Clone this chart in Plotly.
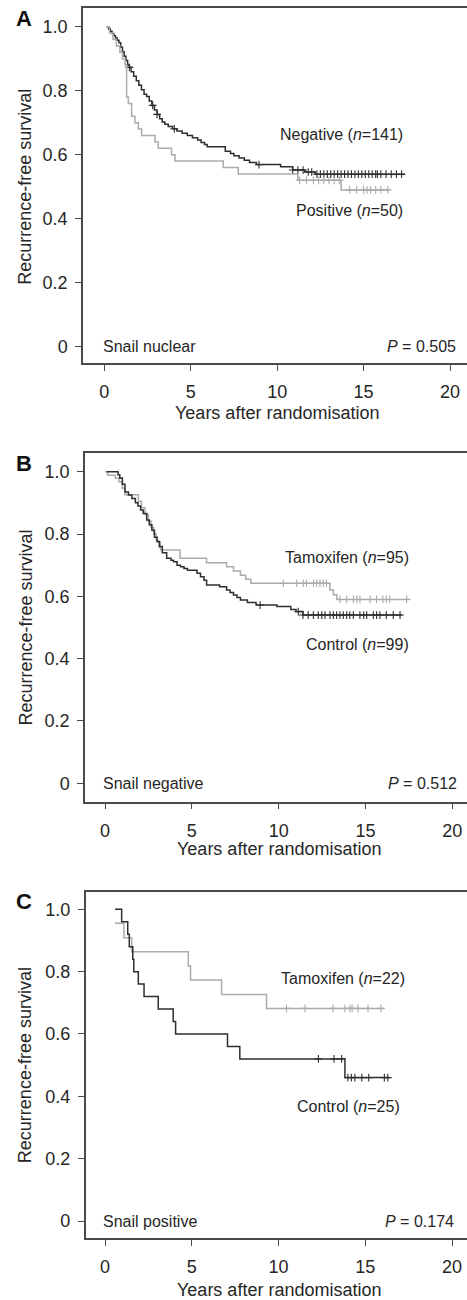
import plotly.graph_objects as go

W, H = 467, 1300
FONT = "Liberation Sans, Arial, Helvetica, sans-serif"
DARK = "#2e2e2e"
LIGHT = "#ababab"
TXT = "#262626"

# ---------------- Panel A: Snail nuclear ----------------
A_neg_start = [0.13, 1.0]
A_neg_t = [0.25, 0.35, 0.45, 0.55, 0.65, 0.75, 0.85, 0.95, 1.05, 1.15, 1.25, 1.35, 1.45, 1.55, 1.7,
           1.85, 2.0, 2.15, 2.3, 2.45, 2.6, 2.75, 2.9, 3.05, 3.2, 3.35, 3.5, 3.7, 3.95, 4.2, 4.5,
           4.8, 5.1, 5.4, 5.6, 5.8, 5.95, 7.0, 7.3, 7.5, 7.8, 8.1, 8.4, 8.8, 10.2, 10.9, 11.6, 12.2]
A_neg_s = [0.993, 0.986, 0.979, 0.972, 0.965, 0.958, 0.950, 0.936, 0.922, 0.908, 0.894, 0.880, 0.873,
           0.859, 0.845, 0.831, 0.817, 0.803, 0.789, 0.782, 0.768, 0.754, 0.740, 0.726, 0.712, 0.702,
           0.695, 0.688, 0.681, 0.674, 0.667, 0.660, 0.653, 0.646, 0.638, 0.632, 0.625, 0.611, 0.604,
           0.597, 0.590, 0.583, 0.576, 0.569, 0.562, 0.552, 0.546, 0.539]
A_neg_end = 17.4
A_neg_cens = [1.45, 2.8, 3.05, 4.05, 8.95, 10.9, 11.2, 11.5, 11.8, 12.0, 12.3, 12.5, 12.7, 12.9, 13.1,
              13.3, 13.5, 13.7, 13.9, 14.1, 14.3, 14.5, 14.7, 14.9, 15.1, 15.3, 15.5, 15.7, 15.8, 16.0,
              16.3, 16.6, 16.9, 17.2]

A_pos_start = [0.13, 1.0]
A_pos_t = [0.3, 0.5, 0.7, 0.9, 1.05, 1.2, 1.29, 1.39, 1.58, 1.77, 1.97, 2.16, 2.93, 3.12, 3.89, 4.09,
           6.88, 7.75, 11.2, 13.7]
A_pos_s = [0.98, 0.96, 0.94, 0.92, 0.90, 0.88, 0.78, 0.76, 0.72, 0.70, 0.68, 0.66, 0.64, 0.62, 0.60,
           0.58, 0.56, 0.54, 0.52, 0.49]
A_pos_end = 16.5
A_pos_cens = [11.3, 11.7, 12.1, 12.4, 12.7, 13.0, 13.3, 13.6, 14.2, 14.6, 15.0, 15.2, 15.4, 15.7, 16.0, 16.4]

# ---------------- Panel B: Snail negative ----------------
B_ctl_start = [0.1, 1.0]
B_ctl_t = [0.75, 0.85, 1.0, 1.15, 1.35, 1.55, 1.75, 1.9, 2.05, 2.2, 2.4, 2.55, 2.7, 2.85, 3.0, 3.15,
           3.3, 3.55, 3.8, 3.95, 4.15, 4.35, 4.55, 4.75, 5.3, 5.5, 5.7, 5.85, 6.6, 7.0, 7.2, 7.4, 7.6,
           7.8, 8.2, 8.7, 9.9, 10.7, 11.0, 11.4]
B_ctl_s = [0.99, 0.98, 0.96, 0.935, 0.925, 0.914, 0.90, 0.89, 0.877, 0.866, 0.845, 0.83, 0.812, 0.79,
           0.775, 0.76, 0.74, 0.722, 0.716, 0.711, 0.70, 0.695, 0.689, 0.684, 0.674, 0.663, 0.652,
           0.636, 0.631, 0.620, 0.612, 0.604, 0.596, 0.588, 0.580, 0.572, 0.567, 0.558, 0.551, 0.540]
B_ctl_end = 17.1
B_ctl_cens = [8.93, 11.13, 11.4, 11.7, 12.0, 12.28, 12.48, 12.67, 12.96, 13.15, 13.34, 13.53, 13.72,
              13.92, 14.1, 14.3, 14.68, 14.9, 15.07, 15.45, 15.64, 15.83, 16.2, 16.6, 16.99]

B_tam_start = [0.0, 1.0]
B_tam_t = [0.15, 0.6, 0.8, 1.0, 1.15, 1.92, 2.1, 2.3, 2.5, 2.65, 2.8, 2.95, 3.1, 3.2, 4.32, 5.85, 7.0,
           7.4, 7.8, 8.1, 8.4, 12.95, 13.15, 13.35]
B_tam_s = [0.989, 0.979, 0.968, 0.947, 0.926, 0.905, 0.884, 0.863, 0.842, 0.821, 0.800, 0.779, 0.758,
           0.749, 0.722, 0.708, 0.695, 0.681, 0.668, 0.655, 0.642, 0.620, 0.605, 0.590]
B_tam_end = 17.56
B_tam_cens = [10.27, 11.04, 11.42, 11.6, 12.0, 12.19, 12.38, 12.57, 12.76, 13.53, 13.92, 14.3, 14.5,
              14.68, 15.26, 15.64, 16.0, 16.2, 16.4, 17.37]

# ---------------- Panel C: Snail positive ----------------
C_ctl_start = [0.58, 1.0]
C_ctl_t = [0.96, 1.31, 1.40, 1.6, 1.66, 1.92, 2.25, 3.07, 3.93, 4.07, 7.06, 7.77, 13.83]
C_ctl_s = [0.96, 0.92, 0.88, 0.84, 0.80, 0.76, 0.72, 0.68, 0.64, 0.60, 0.56, 0.52, 0.46]
C_ctl_end = 16.4
C_ctl_cens = [12.3, 13.2, 13.64, 14.0, 14.2, 14.4, 14.8, 15.2, 16.1, 16.3]

C_tam_start = [0.58, 0.955]
C_tam_t = [1.09, 1.54, 4.8, 4.93, 6.72, 9.31]
C_tam_s = [0.909, 0.864, 0.818, 0.773, 0.727, 0.682]
C_tam_end = 16.1
C_tam_cens = [10.46, 11.53, 13.14, 13.83, 14.12, 14.24, 14.58, 15.16, 15.9]

x_ticks = [0, 5, 10, 15, 20]
y_ticks = [0, 0.2, 0.4, 0.6, 0.8, 1.0]
y_ticklabels = ["0", "0.2", "0.4", "0.6", "0.8", "1.0"]
x_title = "Years after randomisation"
y_title = "Recurrence-free survival"

panels = [
    dict(letter="A", name="Snail nuclear", p="0.505",
         curves=[(A_neg_start, A_neg_t, A_neg_s, A_neg_end, A_neg_cens, DARK, "Negative"),
                 (A_pos_start, A_pos_t, A_pos_s, A_pos_end, A_pos_cens, LIGHT, "Positive")],
         labels=[("Negative (<i>n</i>=141)", 405, 0.662), ("Positive (<i>n</i>=50)", 405, 0.425)],
         left=83, top=8, bottom=363, x0=104.3, x20=450.0, y0=346.7, y1=26.7,
         xtitle_py=413, letter_py=19, p_px=458),
    dict(letter="B", name="Snail negative", p="0.512",
         curves=[(B_tam_start, B_tam_t, B_tam_s, B_tam_end, B_tam_cens, LIGHT, "Tamoxifen"),
                 (B_ctl_start, B_ctl_t, B_ctl_s, B_ctl_end, B_ctl_cens, DARK, "Control")],
         labels=[("Tamoxifen (<i>n</i>=95)", 410.7, 0.725), ("Control (<i>n</i>=99)", 410.7, 0.444)],
         left=85, top=453, bottom=801.7, x0=105.0, x20=452.3, y0=783.3, y1=471.7,
         xtitle_py=849, letter_py=464, p_px=459),
    dict(letter="C", name="Snail positive", p="0.174",
         curves=[(C_tam_start, C_tam_t, C_tam_s, C_tam_end, C_tam_cens, LIGHT, "Tamoxifen"),
                 (C_ctl_start, C_ctl_t, C_ctl_s, C_ctl_end, C_ctl_cens, DARK, "Control")],
         labels=[("Tamoxifen (<i>n</i>=22)", 406.7, 0.779), ("Control (<i>n</i>=25)", 401.7, 0.367)],
         left=85.7, top=891.7, bottom=1238, x0=105.0, x20=452.0, y0=1221, y1=909.3,
         xtitle_py=1290, letter_py=901, p_px=456),
]


def surv_at(start, t, s, x):
    v = start[1]
    for ti, si in zip(t, s):
        if ti <= x:
            v = si
    return v


fig = go.Figure()
annotations = []
for i, pnl in enumerate(panels):
    k = "" if i == 0 else str(i + 1)
    xa, ya = "x" + k, "y" + k
    ppx = (pnl["x20"] - pnl["x0"]) / 20.0
    ppy = (pnl["y0"] - pnl["y1"])
    xr = [(pnl["left"] - pnl["x0"]) / ppx, (W - pnl["x0"]) / ppx]
    yr = [(pnl["y0"] - pnl["bottom"]) / ppy, (pnl["y0"] - pnl["top"]) / ppy]
    for start, t, s, end, cens, col, nm in pnl["curves"]:
        xs = [start[0]] + list(t) + [end]
        ys = [start[1]] + list(s) + [s[-1]]
        fig.add_trace(go.Scatter(x=xs, y=ys, mode="lines", line=dict(color=col, width=1.5, shape="hv"),
                                 name=nm, showlegend=False, xaxis=xa, yaxis=ya, hoverinfo="skip"))
        cy = [surv_at(start, t, s, c) for c in cens]
        fig.add_trace(go.Scatter(x=cens, y=cy, mode="markers",
                                 marker=dict(symbol="cross-thin", size=5.5, line=dict(color=col, width=1.1)),
                                 showlegend=False, xaxis=xa, yaxis=ya, hoverinfo="skip"))
    axcommon = dict(showgrid=False, zeroline=False, showline=True, linecolor="#4a4a4a", linewidth=1.5,
                    ticks="outside", ticklen=6, tickwidth=1.3, tickcolor="#4a4a4a",
                    tickfont=dict(family=FONT, size=18, color=TXT))
    fig.layout["xaxis" + k] = dict(axcommon, domain=[pnl["left"] / W, 1.0], range=xr, anchor=ya,
                                   tickvals=x_ticks, mirror=True, ticklabelstandoff=6)
    fig.layout["yaxis" + k] = dict(axcommon, domain=[1 - pnl["bottom"] / H, 1 - pnl["top"] / H], range=yr,
                                   anchor=xa, tickvals=y_ticks, ticktext=y_ticklabels, ticklabelstandoff=4)
    # in-plot texts
    for txt, px_right, yv in pnl["labels"]:
        annotations.append(dict(text=txt, xref="paper", x=px_right / W, xanchor="right", yref=ya, y=yv,
                                yanchor="middle", showarrow=False, font=dict(family=FONT, size=16, color=TXT)))
    annotations.append(dict(text=pnl["name"], xref="paper", x=100.5 / W, xanchor="left", yref=ya, y=0.0,
                            yanchor="middle", showarrow=False, font=dict(family=FONT, size=16, color=TXT)))
    annotations.append(dict(text="<i>P</i> = " + pnl["p"], xref="paper", x=pnl["p_px"] / W, xanchor="right",
                            yref=ya, y=0.0, yanchor="middle", showarrow=False,
                            font=dict(family=FONT, size=16, color=TXT)))
    annotations.append(dict(text=x_title, xref=xa, x=10, xanchor="center", yref="paper",
                            y=1 - pnl["xtitle_py"] / H, yanchor="middle", showarrow=False,
                            font=dict(family=FONT, size=18, color=TXT)))
    annotations.append(dict(text=y_title, xref="paper", x=25 / W, xanchor="center", yref=ya, y=0.5,
                            yanchor="middle", textangle=-90, showarrow=False,
                            font=dict(family=FONT, size=18, color=TXT)))
    annotations.append(dict(text="<b>" + pnl["letter"] + "</b>", xref="paper", x=24 / W, xanchor="center",
                            yref="paper", y=1 - pnl["letter_py"] / H, yanchor="middle", showarrow=False,
                            font=dict(family=FONT, size=22, color="#111111")))

fig.update_layout(width=W, height=H, margin=dict(l=0, r=0, t=0, b=0), paper_bgcolor="white",
                  plot_bgcolor="white", annotations=annotations, showlegend=False)
fig.write_html("out.html", config={"displayModeBar": False})
